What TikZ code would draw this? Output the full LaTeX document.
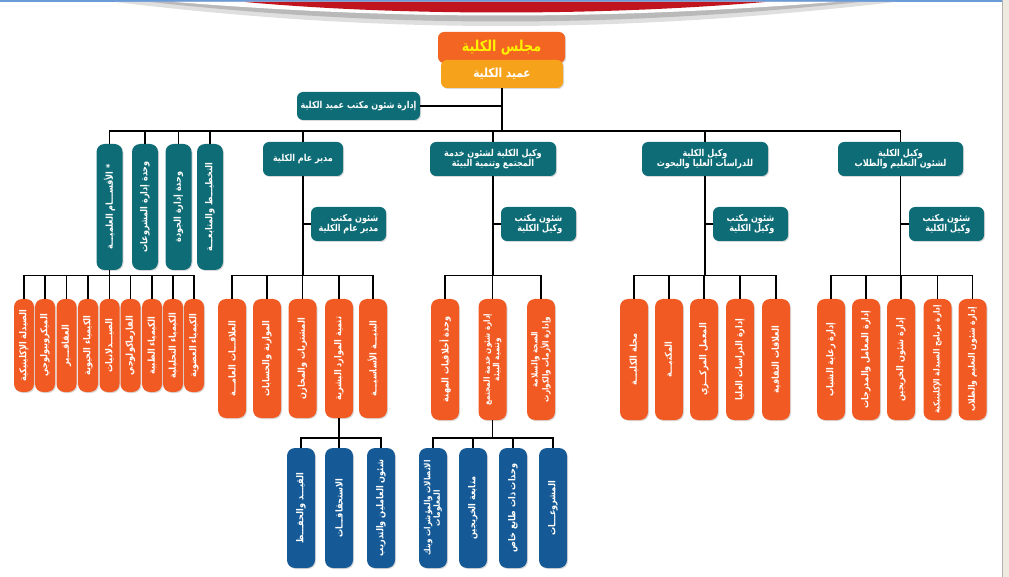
\documentclass[tikz,border=0pt]{standalone}
\usepackage{fontspec}
\newfontfamily\arabicfont[Script=Arabic,FakeStretch=0.85,BoldFont={DejaVu Sans Bold}]{DejaVu Sans}
\TeXXeTstate=1
\usetikzlibrary{shadows}
\definecolor{tealfill}{HTML}{0E6C76}
\definecolor{orangefill}{HTML}{F15A22}
\definecolor{bluefill}{HTML}{155A96}
\definecolor{deanfill}{HTML}{F7A21B}
\definecolor{majlisfill}{HTML}{F26522}
\definecolor{majlistext}{HTML}{FFF200}
\definecolor{bannerred}{HTML}{C0141E}
\definecolor{topblue}{HTML}{6A9AD8}
\definecolor{panelbeige}{HTML}{EEEADF}
\newcommand{\artext}[1]{\beginR #1\endR}
\newcommand{\fsize}[1]{\arabicfont\bfseries\fontsize{#1}{#1}\selectfont}
\tikzset{
 box/.style={rounded corners=6pt, inner sep=1pt, text=white, align=center,
  font=\fsize{9.5},
  drop shadow={opacity=0.3,shadow xshift=1pt,shadow yshift=-1pt}},
 tealbox/.style={box, fill=tealfill},
 orangebox/.style={box, fill=orangefill},
 bluebox/.style={box, fill=bluefill},
 upright/.style={rotate=90, rounded corners=8pt},
 link/.style={line width=1.6pt, black},
}
\begin{document}
\begin{tikzpicture}[x=1pt,y=-1pt]
\useasboundingbox (0,0) rectangle (1009,577);
% banner at the top
\fill[topblue] (0,0) rectangle (1002,2.5);
\fill[gray!25] (115,2) .. controls (380,34) and (620,34) .. (895,2) -- cycle;
\fill[gray!55] (150,2) .. controls (390,28) and (610,28) .. (860,2) -- cycle;
\fill[white] (175,2) .. controls (400,20) and (600,20) .. (835,2) -- cycle;
\fill[bannerred] (245,2) .. controls (400,16) and (600,16) .. (765,2) -- cycle;
\fill[panelbeige] (1002,0) rectangle (1009,577);
\draw[gray!60] (1002,0) -- (1002,577);

\coordinate (bar0) at (0,131);
\coordinate (bar1) at (0,275.5);
\coordinate (bar2) at (0,438);

% top of the chart
\node[box, fill=majlisfill, text=majlistext, minimum width=127, minimum height=31,
 font=\fsize{15}] (majlis) at (501.5,47.5) {\artext{مجلس الكلية}};
\node[box, fill=deanfill, minimum width=122, minimum height=28,
 font=\fsize{12.5}] (dean) at (502,74) {\artext{عميد الكلية}};
\node[tealbox, minimum width=123, minimum height=28] (office) at (358.5,106) {\artext{إدارة شئون مكتب عميد الكلية}};

% first level
\node[tealbox, upright, minimum width=126, minimum height=26] (aqsam) at (109.5,207) {\artext{* الأقســـام العلميـــة}};
\node[tealbox, upright, minimum width=126, minimum height=26] (mashru) at (145,207) {\artext{وحدة إدارة المشروعات}};
\node[tealbox, upright, minimum width=126, minimum height=26] (jawda) at (178.5,207) {\artext{وحدة إدارة الجودة}};
\node[tealbox, upright, minimum width=126, minimum height=26] (takhtit) at (210,207) {\artext{التخطيـــط والمتابعـــة}};
\node[tealbox, minimum width=80, minimum height=34] (mudir) at (303,159) {\artext{مدير عام الكلية}};
\node[tealbox, minimum width=126, minimum height=34] (wakilm) at (493,159) {\artext{وكيل الكلية لشئون خدمة}\\\artext{المجتمع وتنمية البيئة}};
\node[tealbox, minimum width=126, minimum height=34] (wakild) at (705,159) {\artext{وكيل الكلية}\\\artext{للدراسات العليا والبحوث}};
\node[tealbox, minimum width=125, minimum height=34] (wakilt) at (900.5,159) {\artext{وكيل الكلية}\\\artext{لشئون التعليم والطلاب}};

% offices of the vice deans
\node[tealbox, align=right, minimum width=75, minimum height=34] (mudiroff) at (348.5,224) {\artext{شئون مكتب}\\\artext{مدير عام الكلية}};
\node[tealbox, align=right, minimum width=75, minimum height=34] (wakilmoff) at (538.5,224) {\artext{شئون مكتب}\\\artext{وكيل الكلية}};
\node[tealbox, align=right, minimum width=75, minimum height=34] (wakildoff) at (750.5,224) {\artext{شئون مكتب}\\\artext{وكيل الكلية}};
\node[tealbox, align=right, minimum width=75, minimum height=34] (wakiltoff) at (946.5,224) {\artext{شئون مكتب}\\\artext{وكيل الكلية}};

% scientific departments
\node[orangebox, upright, minimum width=93, minimum height=20] (dep1) at (24,345.5) {\artext{الصيدلة الإكلينيكية}};
\node[orangebox, upright, minimum width=93, minimum height=20] (dep2) at (45,345.5) {\artext{الميكروبيولوجي}};
\node[orangebox, upright, minimum width=93, minimum height=20] (dep3) at (66.5,345.5) {\artext{العقاقـــير}};
\node[orangebox, upright, minimum width=93, minimum height=20] (dep4) at (88,345.5) {\artext{الكيمياء الحيوية}};
\node[orangebox, upright, minimum width=93, minimum height=20] (dep5) at (109.5,345.5) {\artext{الصيـــدلانيات}};
\node[orangebox, upright, minimum width=93, minimum height=20] (dep6) at (130.5,345.5) {\artext{الفارماكولوجي}};
\node[orangebox, upright, minimum width=93, minimum height=20] (dep7) at (152,345.5) {\artext{الكيمياء الطبية}};
\node[orangebox, upright, minimum width=93, minimum height=20] (dep8) at (173,345.5) {\artext{الكيمياء التحليلية}};
\node[orangebox, upright, minimum width=93, minimum height=20] (dep9) at (194,345.5) {\artext{الكيمياء العضوية}};

% general manager units
\node[orangebox, upright, minimum width=119, minimum height=28] (mud1) at (232,358.5) {\artext{العلاقـــات العامـــة}};
\node[orangebox, upright, minimum width=119, minimum height=28] (mud2) at (267,358.5) {\artext{الموازنة والحسابات}};
\node[orangebox, upright, minimum width=119, minimum height=28] (mud3) at (302.5,358.5) {\artext{المشتريات والمخازن}};
\node[orangebox, upright, minimum width=119, minimum height=28] (mud4) at (339,358.5) {\artext{تنمية الموارد البشرية}};
\node[orangebox, upright, minimum width=119, minimum height=28] (mud5) at (373,358.5) {\artext{البنيـــة الأساسيـــة}};

% community service units
\node[orangebox, upright, minimum width=121, minimum height=28] (com1) at (445,359.5) {\artext{وحدة أخلاقيات المهنة}};
\node[orangebox, upright, minimum width=121, minimum height=28, font=\fsize{8.5}] (com2) at (492.5,359.5) {\artext{إدارة شئون خدمة المجتمع}\\\artext{وتنمية البيئة}};
\node[orangebox, upright, minimum width=121, minimum height=28, font=\fsize{8.5}] (com3) at (541,359.5) {\artext{الصحة والسلامة}\\\artext{وإدارة الأزمات والكوارث}};

% graduate studies units
\node[orangebox, upright, minimum width=121, minimum height=28] (grd1) at (634,359.5) {\artext{مجلة الكليـــة}};
\node[orangebox, upright, minimum width=121, minimum height=28] (grd2) at (669,359.5) {\artext{المكتبـــة}};
\node[orangebox, upright, minimum width=121, minimum height=28] (grd3) at (704,359.5) {\artext{المعمل المركـــزي}};
\node[orangebox, upright, minimum width=121, minimum height=28] (grd4) at (740,359.5) {\artext{إدارة الدراسات العليا}};
\node[orangebox, upright, minimum width=121, minimum height=28] (grd5) at (776,359.5) {\artext{العلاقات الثقافية}};

% education and students units
\node[orangebox, upright, minimum width=121, minimum height=28] (edu1) at (831,359.5) {\artext{إدارة رعاية الشباب}};
\node[orangebox, upright, minimum width=121, minimum height=28] (edu2) at (866,359.5) {\artext{إدارة المعامل والمدرجات}};
\node[orangebox, upright, minimum width=121, minimum height=28] (edu3) at (901,359.5) {\artext{إدارة شئون الخريجين}};
\node[orangebox, upright, minimum width=121, minimum height=28, font=\fsize{8.5}] (edu4) at (937.5,359.5) {\artext{إدارة برنامج الصيدلة الإكلينيكية}};
\node[orangebox, upright, minimum width=121, minimum height=28, font=\fsize{9}] (edu5) at (972.5,359.5) {\artext{إدارة شئون التعليم والطلاب}};

% third level
\node[bluebox, upright, minimum width=120, minimum height=28] (hr1) at (301,508) {\artext{القيـــد والحفـــظ}};
\node[bluebox, upright, minimum width=120, minimum height=28] (hr2) at (339,508) {\artext{الاستحقاقـــات}};
\node[bluebox, upright, minimum width=120, minimum height=28] (hr3) at (381,508) {\artext{شئون العاملين والتدريب}};
\node[bluebox, upright, minimum width=120, minimum height=28, font=\fsize{8.5}] (srv1) at (433,508) {\artext{الاتصالات والمؤشرات وبنك}\\\artext{المعلومات}};
\node[bluebox, upright, minimum width=120, minimum height=28] (srv2) at (473,508) {\artext{متابعة الخريجين}};
\node[bluebox, upright, minimum width=120, minimum height=28] (srv3) at (513,508) {\artext{وحدات ذات طابع خاص}};
\node[bluebox, upright, minimum width=120, minimum height=28] (srv4) at (553,508) {\artext{المشروعـــات}};

% connectors
\draw[link] (dean.south) -- (dean.south |- bar0);
\draw[link] (office.east) -- (office.east -| dean.south);
\draw[link] (dean.south |- bar0) -| (aqsam.east) (dean.south |- bar0) -| (mashru.east)
 (dean.south |- bar0) -| (jawda.east) (dean.south |- bar0) -| (takhtit.east)
 (dean.south |- bar0) -| (mudir.north) (dean.south |- bar0) -| (wakilm.north)
 (dean.south |- bar0) -| (wakild.north) (dean.south |- bar0) -| (wakilt.north);
\draw[link] (mudir.south) -- (mudir.south |- bar1) (mudiroff.west) -- (mudiroff.west -| mudir.south);
\draw[link] (wakilm.south) -- (wakilm.south |- bar1) (wakilmoff.west) -- (wakilmoff.west -| wakilm.south);
\draw[link] (wakild.south) -- (wakild.south |- bar1) (wakildoff.west) -- (wakildoff.west -| wakild.south);
\draw[link] (wakilt.south) -- (wakilt.south |- bar1) (wakiltoff.west) -- (wakiltoff.west -| wakilt.south);
\draw[link] (aqsam.west) -- (aqsam.west |- bar1);
\draw[link] (aqsam.west |- bar1) -| (dep1.east) (aqsam.west |- bar1) -| (dep2.east)
 (aqsam.west |- bar1) -| (dep3.east) (aqsam.west |- bar1) -| (dep4.east)
 (aqsam.west |- bar1) -| (dep5.east) (aqsam.west |- bar1) -| (dep6.east)
 (aqsam.west |- bar1) -| (dep7.east) (aqsam.west |- bar1) -| (dep8.east)
 (aqsam.west |- bar1) -| (dep9.east);
\draw[link] (mudir.south |- bar1) -| (mud1.east) (mudir.south |- bar1) -| (mud2.east)
 (mudir.south |- bar1) -| (mud3.east) (mudir.south |- bar1) -| (mud4.east)
 (mudir.south |- bar1) -| (mud5.east);
\draw[link] (wakilm.south |- bar1) -| (com1.east) (wakilm.south |- bar1) -| (com2.east)
 (wakilm.south |- bar1) -| (com3.east);
\draw[link] (wakild.south |- bar1) -| (grd1.east) (wakild.south |- bar1) -| (grd2.east)
 (wakild.south |- bar1) -| (grd3.east) (wakild.south |- bar1) -| (grd4.east)
 (wakild.south |- bar1) -| (grd5.east);
\draw[link] (wakilt.south |- bar1) -| (edu1.east) (wakilt.south |- bar1) -| (edu2.east)
 (wakilt.south |- bar1) -| (edu3.east) (wakilt.south |- bar1) -| (edu4.east)
 (wakilt.south |- bar1) -| (edu5.east);
\draw[link] (mud4.west) -- (mud4.west |- bar2);
\draw[link] (mud4.west |- bar2) -| (hr1.east) (mud4.west |- bar2) -| (hr2.east)
 (mud4.west |- bar2) -| (hr3.east);
\draw[link] (com2.west) -- (com2.west |- bar2);
\draw[link] (com2.west |- bar2) -| (srv1.east) (com2.west |- bar2) -| (srv2.east)
 (com2.west |- bar2) -| (srv3.east) (com2.west |- bar2) -| (srv4.east);
\end{tikzpicture}
\end{document}
